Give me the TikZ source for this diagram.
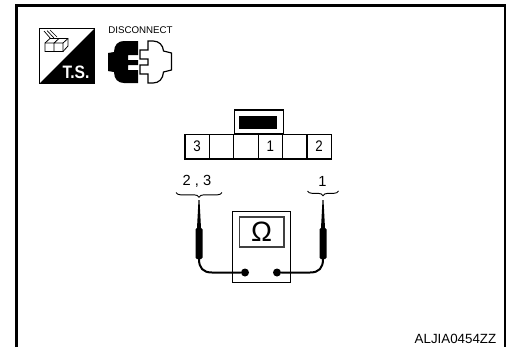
\documentclass[tikz,border=0pt]{standalone}
\usepackage{fontspec}
\setmainfont{Liberation Sans}
\usetikzlibrary{decorations.pathreplacing}
\tikzset{
 thin box/.style={draw=black,line width=0.9pt,fill=white},
 cell/.style={draw=black,line width=0.9pt,fill=white,minimum width=18.3pt,minimum height=18.6pt,inner sep=0pt,font=\fontsize{11.5}{11.5}\selectfont},
 wire/.style={line width=1.5pt,draw=black,line cap=round},
 dot/.style={circle,fill=black,minimum size=6pt,inner sep=0pt},
 brace/.style={draw=black,line width=0.7pt,decorate,decoration={brace,mirror,amplitude=3.5pt}},
 pin/.style={inner sep=0pt,font=\fontsize{11}{11}\selectfont},
}
\newcommand{\narrow}[1]{\scalebox{0.87}[1]{#1}}
\begin{document}
\begin{tikzpicture}[x=0.75pt,y=-0.75pt]
\useasboundingbox (0,0) rectangle (506,347);
\fill[white] (0,0) rectangle (506,347);
% frame
\draw[line width=2.25pt,black] (16.5,347) -- (16.5,5.5) -- (505,5.5) -- (505,347);
% TS icon
\draw[line width=0.9pt,fill=white] (39.5,28.5) rectangle (94.5,83.5);
\fill[black] (94.5,28.5) -- (94.5,83.5) -- (39.5,83.5) -- cycle;
\draw[line width=0.5pt] (44,31) -- (51,39) (47,30.5) -- (54,38) (50,30) -- (57,37);
\draw[line width=0.6pt,fill=white] (45,43) -- (50,38.5) -- (68,38.5) -- (68,46) -- (63,51.5) -- (45,51.5) -- cycle;
\draw[line width=0.6pt] (45,43) -- (63,43) -- (63,51.5) (63,43) -- (68,38.5) (54,43) -- (54,51.5) (54,43) -- (59,38.5);
\node[inner sep=0pt,text=white,font=\bfseries\fontsize{13.5}{13.5}\selectfont] (ts) at (76,72.5) {\narrow{T.S.}};
% disconnect
\node[inner sep=0pt,font=\fontsize{7.3}{7.3}\selectfont] (disc) at (140.5,30.5) {DISCONNECT};
\fill[black] (138,41) -- (124,41) .. controls (118,41) and (114,45) .. (114,52) -- (108,53) -- (108,71) -- (114,72) .. controls (114,79) and (118,83) .. (124,83) -- (138,83) -- (138,70) -- (128,70) -- (128,65) -- (138,65) -- (138,60) -- (128,60) -- (128,55) -- (138,55) -- cycle;
\draw[line width=0.9pt,fill=white] (148,41) -- (153,41) .. controls (159,41) and (163,45) .. (163.5,51) -- (171.5,53) -- (171.5,70) -- (163.5,72) .. controls (163,79) and (159,83) .. (153,83) -- (148,83) -- (148,74) -- (140,74) -- (140,65) -- (148,65) -- (148,59) -- (140,59) -- (140,50) -- (148,50) -- cycle;
% connector
\node[thin box,minimum width=36.8pt,minimum height=17.5pt,inner sep=0pt,anchor=south west] (top) at (233.5,134) {};
\fill[black] (239,116) rectangle (277,129);
\node[cell] (c1) at (197.2,146.5) {\narrow{3}};
\node[cell] (c2) at (221.6,146.5) {};
\node[cell] (c3) at (246,146.5) {};
\node[cell] (c4) at (270.4,146.5) {\narrow{1}};
\node[cell] (c5) at (294.8,146.5) {};
\node[cell] (c6) at (319.2,146.5) {\narrow{2}};
% labels and braces
\node[pin] (l23) at (197,181.5) {2 , 3};
\node[pin] (l1) at (322.5,181.5) {1};
\coordinate (b1a) at (176,192.5);
\coordinate (b1b) at (222,192.5);
\coordinate (b2a) at (307.5,191);
\coordinate (b2b) at (338.5,191);
\draw[brace] (b1a) -- (b1b);
\draw[brace] (b2a) -- (b2b);
% meter
\node[thin box,minimum width=44pt,minimum height=53.5pt,inner sep=0pt] (meter) at (261.5,247) {};
\node[draw=black!75,line width=1pt,fill=white,minimum width=33.5pt,minimum height=22.5pt,inner sep=0pt,font=\fontsize{21}{21}\selectfont] (screen) at (261.5,232) {Ω};
\node[dot] (d1) at (245,272.5) {};
\node[dot] (d2) at (277,272.5) {};
% probes
\fill[black] (198.5,200) -- (199.5,200) -- (201,228) -- (197,228) -- cycle;
\fill[black,rounded corners=1pt] (195.5,228) rectangle (202.5,259);
\fill[black] (322.5,200) -- (323.5,200) -- (325,228) -- (321,228) -- cycle;
\fill[black,rounded corners=1pt] (319.5,228) rectangle (326.5,259);
\coordinate (p1) at (199,259);
\coordinate (p2) at (323,259);
\draw[wire] (p1) .. controls (199,268) and (203,272.5) .. (212,272.5) -- (d1);
\draw[wire] (p2) .. controls (323,268) and (319,272.5) .. (310,272.5) -- (d2);
% code
\node[inner sep=0pt,anchor=east,font=\fontsize{10}{10}\selectfont] (code) at (496.5,339) {ALJIA0454ZZ};
\end{tikzpicture}
\end{document}
